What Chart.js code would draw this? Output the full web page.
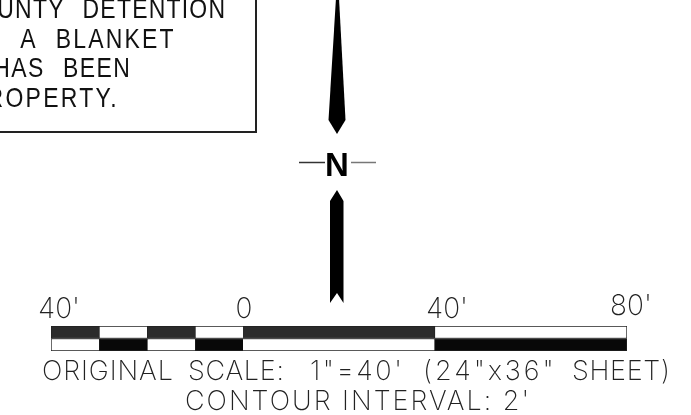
<!DOCTYPE html>
<html>
<head>
<meta charset="utf-8">
<script src="https://cdn.jsdelivr.net/npm/chart.js@4/dist/chart.umd.min.js"></script>
<style>
html, body { margin: 0; padding: 0; background: #fff; overflow: hidden; }
#wrap { position: relative; width: 691px; height: 415px; overflow: hidden; }
#scaleChart { position: absolute; left: 0; top: 0; }
#noteBox { position: absolute; left: -20px; top: -20px; width: 273px; height: 149px; border: 2px solid #222; }
.t { position: absolute; white-space: pre; line-height: 1; color: #111; }
.note { font-family: "Liberation Sans"; font-size: 28px; word-spacing: 13px; font-weight: 400; transform: scaleX(0.82); transform-origin: right top; }
.cap { font-family: "Inter"; font-weight: 200; font-size: 27px; color: #222; }
.cap span { position: absolute; top: 0; white-space: pre; }
#north { font-family: "Liberation Sans"; font-weight: 700; font-size: 33px; color: #000; }
</style>
</head>
<body>
<div id="wrap">
  <canvas id="scaleChart" width="691" height="415"></canvas>
  <div id="noteBox"></div>
  <div class="t note" style="right:465px; top:-5px; letter-spacing:1.5px">COUNTY DETENTION</div>
  <div class="t note" style="right:515px; top:25px; letter-spacing:2.7px">A BLANKET</div>
  <div class="t note" style="right:560px; top:54px; letter-spacing:1.7px">HAS BEEN</div>
  <div class="t note" style="right:572px; top:84px; letter-spacing:2.8px">PROPERTY.</div>
  <div class="t" id="north" style="left:325px; top:148px">N</div>
  <div class="t cap" style="left:0; top:357px"><span style="left:42px; letter-spacing:0.9px">ORIGINAL</span> <span style="left:188px; letter-spacing:0.7px">SCALE:</span> <span style="left:310px; letter-spacing:2.5px">1"=40'</span> <span style="left:423px; letter-spacing:3px">(24"x36"</span> <span style="left:572px; letter-spacing:0.7px">SHEET)</span></div>
  <div class="t cap" style="left:185px; top:387px; letter-spacing:2px">CONTOUR INTERVAL: 2'</div>
</div>
<script>
// graphic scale, feet
var rows = ["upper", "lower"];
var scaleEdges = [-40, -30, -20, -10, 0, 40, 80];
var tickValues = [-40, 0, 40, 80];
var tickLabels = ["40'", "0", "40'", "80'"];

var datasets = [];
for (var i = 0; i < scaleEdges.length - 1; i++) {
    var seg = [scaleEdges[i], scaleEdges[i + 1]];
    var topDark = i % 2 == 0;
    datasets.push({
        label: "segment " + i,
        data: [seg, seg],
        backgroundColor: topDark ? ["#2b2b2b", "#fff"] : ["#fff", "#080808"],
        borderColor: "#222",
        borderWidth: 1,
        grouped: false,
        barPercentage: 1,
        categoryPercentage: 1
    });
}

// the labels sit a bit off their ticks in the drawing
var labelNudge = [[8, 0], [1, 0], [12, 0], [4, -3]];
var nudgeLabels = {
    id: "nudgeLabels",
    beforeDraw: function (chart) {
        var items = chart.scales.x.getLabelItems();
        items.forEach(function (item, n) {
            item.options.translation[0] += labelNudge[n][0];
            item.options.translation[1] += labelNudge[n][1];
        });
    }
};

// north arrow and its little dashes beside the N
var northArrow = {
    id: "northArrow",
    afterDraw: function (chart) {
        var c = chart.ctx;
        c.save();
        c.fillStyle = "#000";
        c.beginPath();
        c.moveTo(336, -2); c.lineTo(339, -2); c.lineTo(345.5, 120); c.lineTo(337, 134); c.lineTo(328.5, 120);
        c.closePath();
        c.fill();
        c.beginPath();
        c.moveTo(337, 190); c.lineTo(343.5, 201); c.lineTo(343.5, 303); c.lineTo(337, 293); c.lineTo(330, 303); c.lineTo(330, 201);
        c.closePath();
        c.fill();
        c.lineWidth = 1.5;
        c.strokeStyle = "#333";
        c.beginPath(); c.moveTo(299, 162.5); c.lineTo(325, 162.5); c.stroke();
        c.strokeStyle = "#777";
        c.beginPath(); c.moveTo(351, 162.5); c.lineTo(376, 162.5); c.stroke();
        c.restore();
    }
};

var ctx = document.getElementById("scaleChart").getContext("2d");
new Chart(ctx, {
    type: "bar",
    data: { labels: rows, datasets: datasets },
    plugins: [nudgeLabels, northArrow],
    options: {
        indexAxis: "y",
        responsive: false,
        animation: false,
        layout: { padding: { left: 51, right: 64, top: 290, bottom: 64 } },
        plugins: { legend: { display: false }, tooltip: { enabled: false } },
        scales: {
            x: {
                type: "linear",
                position: "top",
                min: -40,
                max: 80,
                grid: { display: false },
                border: { display: false },
                afterBuildTicks: function (axis) {
                    axis.ticks = tickValues.map(function (v) { return { value: v }; });
                },
                afterFit: function (axis) { axis.height = 36; },
                ticks: {
                    autoSkip: false,
                    maxRotation: 0,
                    padding: -8,
                    color: "#222",
                    font: { family: "Inter", weight: 200, size: 28 },
                    callback: function (v) { return tickLabels[tickValues.indexOf(v)]; }
                }
            },
            y: { display: false, grid: { display: false } }
        }
    }
});
</script>
</body>
</html>
